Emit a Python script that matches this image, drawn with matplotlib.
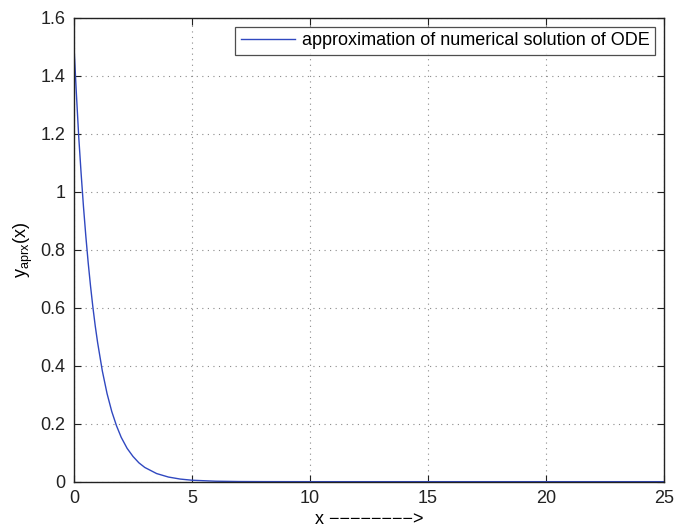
import matplotlib.pyplot as plt

plt.rcParams['font.family'] = ['Liberation Sans', 'DejaVu Sans']
plt.rcParams['mathtext.fontset'] = 'custom'
plt.rcParams['mathtext.rm'] = 'Liberation Sans'

# approximate solution y(x) sampled along x
x_vals = [0, 0.1, 0.2, 0.3, 0.4, 0.5, 0.6, 0.7, 0.8, 0.9, 1.0, 1.2, 1.4, 1.6, 1.8,
          2.0, 2.25, 2.5, 2.75, 3.0, 3.5, 4.0, 4.5, 5.0, 6.0, 7.0, 8.0, 10.0, 25.0]
y_vals = [1.50, 1.34, 1.19, 1.065, 0.950, 0.848, 0.756, 0.675, 0.602, 0.537, 0.480,
          0.382, 0.304, 0.242, 0.193, 0.153, 0.115, 0.087, 0.065, 0.049, 0.028,
          0.016, 0.009, 0.005, 0.0016, 0.0005, 0.0002, 0.0, 0.0]

x_ticks = [0, 5, 10, 15, 20, 25]
y_ticks = [0, 0.2, 0.4, 0.6, 0.8, 1, 1.2, 1.4, 1.6]
y_tick_labels = ['0', '0.2', '0.4', '0.6', '0.8', '1', '1.2', '1.4', '1.6']

fig = plt.figure(figsize=(6.74, 5.27), dpi=100)
ax = fig.add_axes([0.1098, 0.086, 0.8755, 0.880])

ax.plot(x_vals, y_vals, color='#3048c0', linewidth=1.0,
        label='approximation of numerical solution of ODE')

ax.set_xlim(0, 25)
ax.set_ylim(0, 1.6)
ax.set_xticks(x_ticks)
ax.set_yticks(y_ticks)
ax.set_yticklabels(y_tick_labels)
ax.tick_params(direction='in', length=5, labelsize=13, colors='#222222',
               top=True, right=True, pad=6)
ax.grid(True, linestyle=(0, (1, 4)), color='#8a8a8a', linewidth=0.8)
for sp in ax.spines.values():
    sp.set_linewidth(1.0)
    sp.set_color('#222222')

ax.set_xlabel('x ' + '\u2212' * 8 + '>', fontsize=13, labelpad=3)
ax.set_ylabel(r'y$_{\mathrm{aprx}}$(x)', fontsize=13, labelpad=4)

leg = ax.legend(loc='upper right', fontsize=13, frameon=True, fancybox=False,
                borderaxespad=0.5, handlelength=3.0, borderpad=0.3,
                handletextpad=0.4)
leg.get_frame().set_edgecolor('#222222')
leg.get_frame().set_linewidth(0.9)

fig.savefig('out.png', dpi=100)
